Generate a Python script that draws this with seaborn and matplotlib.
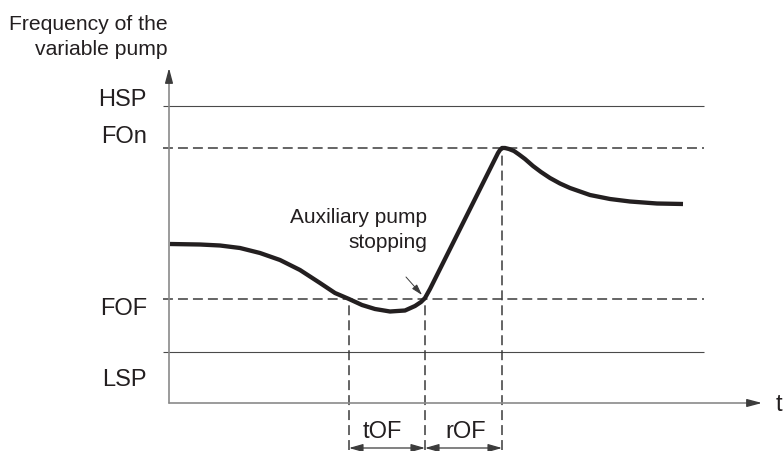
import matplotlib
matplotlib.use('Agg')
import matplotlib.pyplot as plt
import seaborn as sns
import pandas as pd

# ---------------------------------------------------------------------------
# Data (schematic units: time to the right, frequency up)
# ---------------------------------------------------------------------------
LEVEL_NAMES = ['HSP', 'FOn', 'FOF', 'LSP']
LEVEL_VALUES = [297, 255, 104, 51]
LEVEL_LABEL_Y = [303, 266, 94, 23]

T_FOF_CROSS = 180    # curve falls below FOF
T_STOP = 256         # auxiliary pump stops (end of tOF)
T_PEAK = 333         # curve reaches FOn (end of rOF)
T_LINE_END = 535
T_AXIS_END = 593
F_AXIS_END = 335

curve_t = [1, 31, 51, 71, 91, 111, 131, 151, 166, 180, 193, 206, 221, 236,
           246, 252, 256, 261, 271, 291, 311, 326, 329, 331, 333, 336, 340,
           345, 350, 356, 364, 372, 381, 391, 401, 421, 441, 461, 488, 514]
curve_f = [159, 158.5, 157.5, 155, 150, 143, 133, 120, 110, 104, 98, 94,
           91.5, 92.5, 97, 101, 105, 114, 134, 174, 214, 244, 250, 253, 255,
           255, 254, 252, 248.5, 244, 237, 231, 225, 219.5, 215, 208, 204,
           201.5, 199.5, 199]

SPANS = ['tOF', 'rOF']
SPAN_LABEL_T = [213, 297]

FONT = ['Liberation Sans', 'DejaVu Sans']
INK = '#231f20'
AXIS_GREY = '#8a8a8a'
HEAD_GREY = '#3c3c3c'

sns.set_theme(style='white')
plt.rcParams['font.family'] = FONT

fig = plt.figure(figsize=(7.84, 4.51), dpi=100)
ax = fig.add_axes([0, 0, 1, 1])
ax.axis('off')

dash = (0, (6.5, 3.3))

# reference levels
for name, val, ly in zip(LEVEL_NAMES, LEVEL_VALUES, LEVEL_LABEL_Y):
    if name in ('HSP', 'LSP'):
        ax.hlines(val, -6, T_LINE_END, color='#4a4a4a', lw=0.8)
    else:
        ax.hlines(val, -6, T_LINE_END, color='#3a3a3a', lw=1.1, linestyle=dash)
    ax.text(-22, ly, name, ha='right', va='center', fontsize=17, color=INK)

# vertical dashed markers
fof = LEVEL_VALUES[2]
fon = LEVEL_VALUES[1]
ax.vlines([T_FOF_CROSS, T_STOP], -47, fof, color='#3a3a3a', lw=1.1, linestyle=dash)
ax.vlines(T_PEAK, -47, fon, color='#3a3a3a', lw=1.1, linestyle=dash)

# axes with arrows (grey shaft, dark head)
ax.plot([0, 0], [0, F_AXIS_END - 8], color=AXIS_GREY, lw=1.2)
ax.plot([0, T_AXIS_END - 8], [0, 0], color=AXIS_GREY, lw=1.2)
head = dict(arrowstyle='-|>,head_length=0.75,head_width=0.2',
            color=HEAD_GREY, lw=1.0, shrinkA=0, shrinkB=0)
ax.annotate('', xy=(0, F_AXIS_END), xytext=(0, F_AXIS_END - 10), arrowprops=head)
ax.annotate('', xy=(T_AXIS_END, 0), xytext=(T_AXIS_END - 10, 0), arrowprops=head)

# frequency curve
df = pd.DataFrame({'t': curve_t, 'f': curve_f})
sns.lineplot(data=df, x='t', y='f', ax=ax, color=INK, linewidth=3.1,
             estimator=None, sort=False)
ax.lines[-1].set_solid_joinstyle('round')
ax.lines[-1].set_solid_capstyle('butt')

# span dimension arrows
span_edges = [T_FOF_CROSS, T_STOP, T_PEAK]
for i, (name, lt) in enumerate(zip(SPANS, SPAN_LABEL_T)):
    ax.annotate('', xy=(span_edges[i], -45), xytext=(span_edges[i + 1], -45),
                arrowprops=dict(arrowstyle='<|-|>,head_length=0.7,head_width=0.2',
                                color=HEAD_GREY, lw=0.9, shrinkA=0, shrinkB=0))
    ax.text(lt, -29, name, ha='center', va='center', fontsize=17, color=INK)

# annotation
ax.annotate('', xy=(253, 108), xytext=(237, 126),
            arrowprops=dict(arrowstyle='-|>,head_length=0.55,head_width=0.16',
                            color=HEAD_GREY, lw=0.7, shrinkA=0, shrinkB=0))
ax.text(258, 173, 'Auxiliary pump\nstopping', ha='right', va='center',
        multialignment='right', fontsize=15, color=INK, linespacing=1.4)

ax.text(-1, 366, 'Frequency of the\nvariable pump', ha='right', va='center',
        multialignment='right', fontsize=15.2, color=INK, linespacing=1.4)
ax.text(607, -2, 't', ha='left', va='center', fontsize=17, color=INK)

ax.set_xlim(-169, 615)
ax.set_ylim(-48, 403)

fig.savefig('out.png', dpi=100)
